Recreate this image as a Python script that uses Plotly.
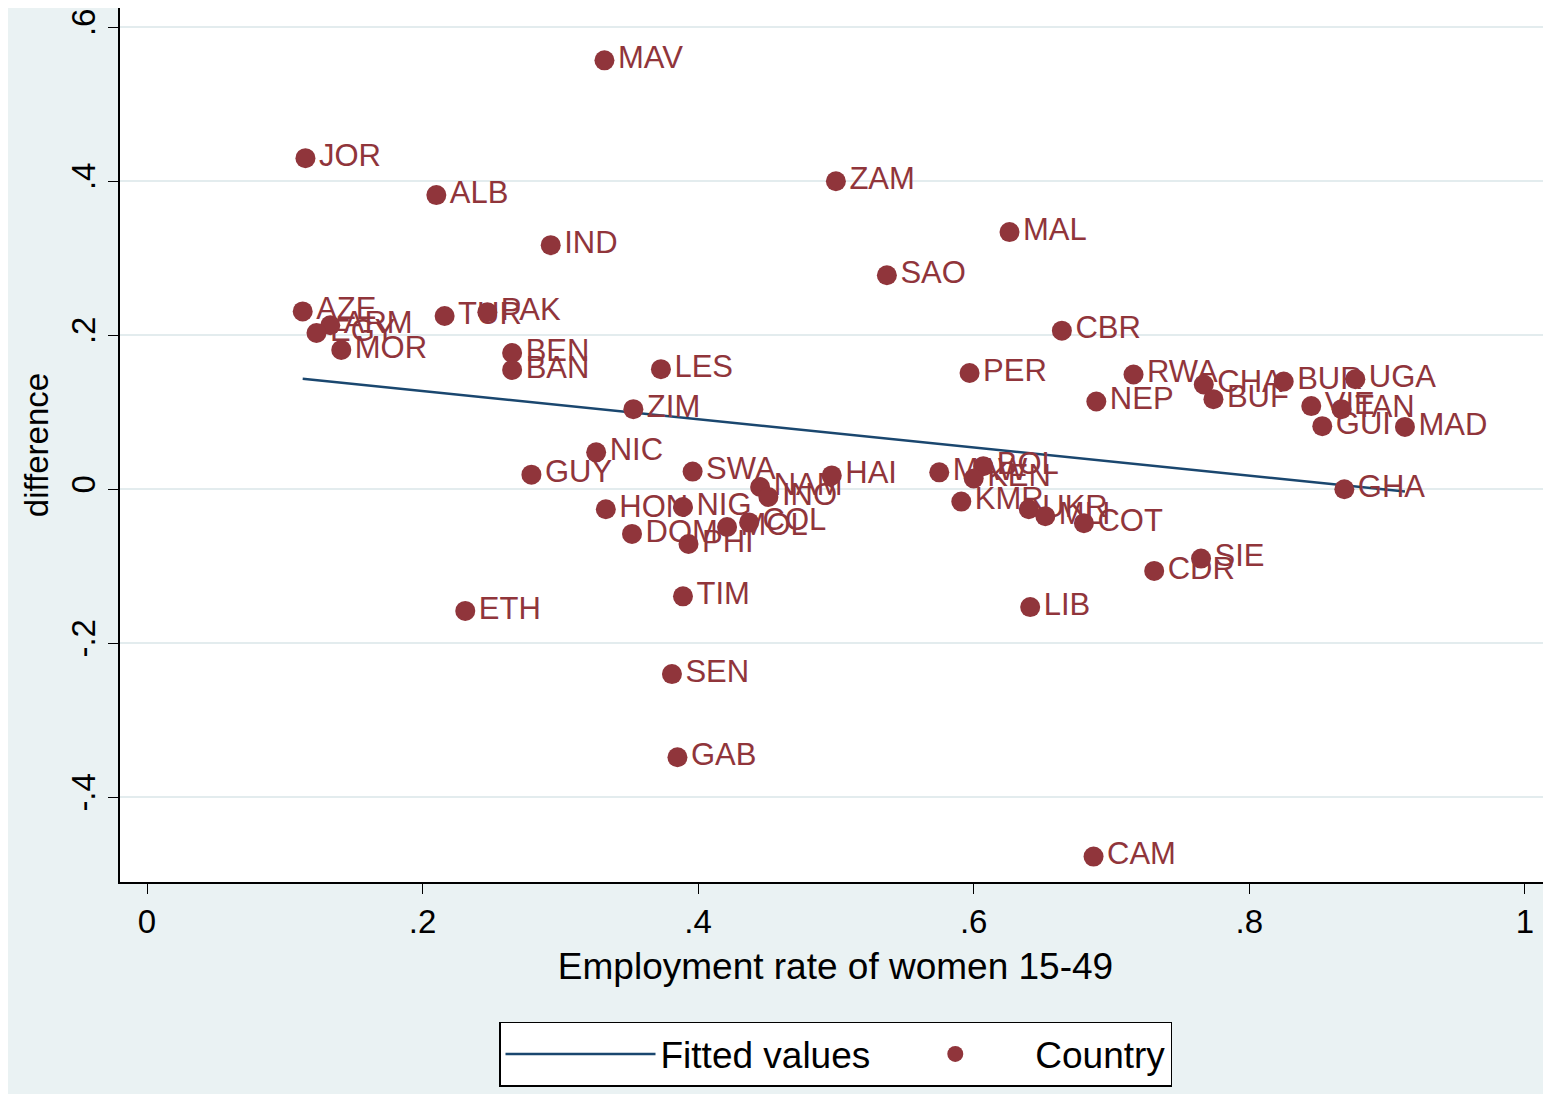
import numpy as np
import plotly.graph_objects as go

countries = ["MAV", "JOR", "ALB", "IND", "ZAM", "MAL", "SAO", "AZE", "ARM", "EGY",
             "MOR", "TUR", "PAK", "BEN", "BAN", "LES", "ZIM", "CBR", "PER", "RWA",
             "CHA", "BUR", "UGA", "BUF", "NEP", "VIE", "TAN", "GUI", "MAD", "NIC",
             "GUY", "SWA", "NAM", "INO", "HAI", "HON", "NIG", "DOM", "PHI", "MOL",
             "COL", "MAW", "BOL", "KEN", "KMR", "UKR", "MLI", "COT", "CDR", "SIE",
             "GHA", "TIM", "ETH", "LIB", "SEN", "GAB", "CAM"]
employment = [.332, .115, .210, .293, .500, .626, .537, .113, .133, .123,
              .141, .216, .247, .265, .265, .373, .353, .664, .597, .716,
              .767, .825, .877, .774, .689, .845, .867, .853, .913, .326,
              .279, .396, .445, .451, .497, .333, .389, .352, .393, .421,
              .437, .575, .607, .600, .591, .640, .652, .680, .731, .765,
              .869, .389, .231, .641, .381, .385, .687]
difference = [.557, .430, .382, .317, .400, .334, .278, .231, .213, .203,
              .181, .225, .230, .177, .155, .156, .104, .206, .151, .149,
              .136, .140, .143, .117, .114, .108, .104, .082, .081, .048,
              .019, .023, .003, -.010, .018, -.026, -.023, -.058, -.071, -.049,
              -.043, .022, .030, .014, -.016, -.026, -.035, -.044, -.106, -.090,
              .000, -.139, -.158, -.153, -.240, -.348, -.477]

ytick_vals = [-.4, -.2, 0, .2, .4, .6]
ytick_text = ["-.4", "-.2", "0", ".2", ".4", ".6"]
xtick_vals = [0, .2, .4, .6, .8, 1]
xtick_text = ["0", ".2", ".4", ".6", ".8", "1"]

slope, intercept = np.polyfit(employment, difference, 1)
fx = np.array([min(employment), max(employment)])
fy = intercept + slope * fx

red = "#90353b"
fig = go.Figure()
fig.add_trace(go.Scatter(x=fx, y=fy, mode="lines", name="Fitted values",
                         line=dict(color="#1a476f", width=2.5)))
fig.add_trace(go.Scatter(x=employment, y=difference, mode="markers+text", name="Country",
                         text=countries, textposition="middle right",
                         textfont=dict(size=31, color=red),
                         marker=dict(color=red, size=20)))

fig.update_layout(
    width=1543, height=1086,
    paper_bgcolor="#eaf2f3", plot_bgcolor="white",
    font=dict(family="Liberation Sans, Arial", color="black", size=33),
    margin=dict(l=112, r=0, t=0, b=212),
    legend=dict(orientation="h", x=0.5, xanchor="center", y=-0.16, yanchor="top",
                bgcolor="white", bordercolor="black", borderwidth=1.5,
                font=dict(size=37), itemwidth=150),
)
fig.update_xaxes(range=[-0.0196, 1.019], tickvals=xtick_vals, ticktext=xtick_text,
                 showgrid=False, zeroline=False, showline=True, linecolor="black",
                 linewidth=1.5, ticks="outside", ticklen=10, tickcolor="black",
                 title=dict(text="Employment rate of women 15-49", font=dict(size=37), standoff=14))
fig.update_yaxes(range=[-0.51, 0.625], tickvals=ytick_vals, ticktext=ytick_text,
                 tickangle=-90, showgrid=True, gridcolor="#e3ecee", gridwidth=2,
                 zeroline=False, showline=True, linecolor="black", linewidth=1.5,
                 ticks="outside", ticklen=10, tickcolor="black",
                 title=dict(text="difference", font=dict(size=33), standoff=6))

fig.write_html("out.html")
